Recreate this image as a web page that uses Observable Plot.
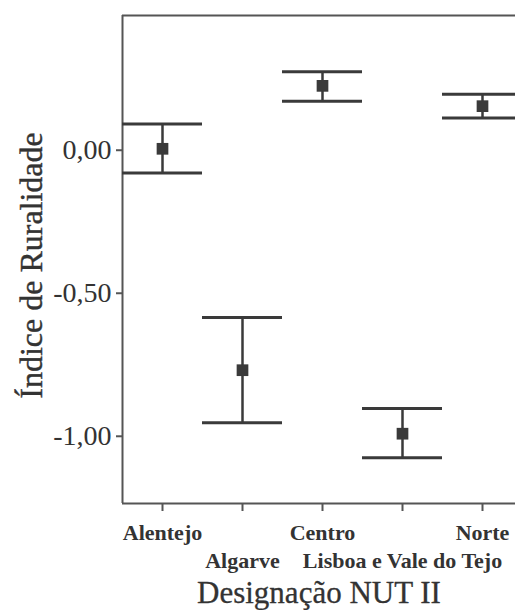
<!DOCTYPE html>
<html>
<head>
<meta charset="utf-8">
<script src="https://cdn.jsdelivr.net/npm/d3@7"></script>
<script src="https://cdn.jsdelivr.net/npm/@observablehq/plot@0.6"></script>
<style>
  html, body { margin: 0; padding: 0; background: #fff; }
</style>
</head>
<body>
<div id="chart"></div>
<script>
const categories = ["Alentejo", "Algarve", "Centro", "Lisboa e Vale do Tejo", "Norte"];
const means = [0.005, -0.769, 0.225, -0.991, 0.154];
const lower = [-0.080, -0.953, 0.171, -1.075, 0.113];
const upper = [0.092, -0.585, 0.274, -0.903, 0.196];
const yTicks = [0, -0.5, -1];
const yDomain = [-1.235, 0.471];
const xDomain = [-0.5, 4.4125];
const yLabel = "Índice de Ruralidade";
const xLabel = "Designação NUT II";

const rows = categories.map((c, i) => ({i, c, mean: means[i], lo: lower[i], hi: upper[i]}));
const fmt = v => d3.format(".2f")(v).replace(".", ",").replace("−", "-");
const ink = "#3a3a3a";
const axisInk = "#555";
const serif = "'Liberation Serif', 'Times New Roman', serif";

const chart = Plot.plot({
  width: 515,
  height: 610,
  marginLeft: 122,
  marginRight: 0,
  marginTop: 15,
  marginBottom: 107,
  style: {fontFamily: serif, color: "#333", background: "#fff"},
  x: {domain: xDomain, label: null},
  y: {domain: yDomain, label: null},
  marks: [
    Plot.ruleY([yDomain[1], yDomain[0]], {stroke: axisInk, strokeWidth: 2}),
    Plot.ruleX([xDomain[0]], {stroke: axisInk, strokeWidth: 2}),
    Plot.axisY(yTicks, {tickFormat: fmt, tickSize: 6, tickPadding: 5, fontSize: 28, fontFamily: serif, stroke: axisInk, strokeWidth: 2, label: null}),
    Plot.axisX(categories.map((c, i) => i), {tickSize: 8, tickFormat: () => "", stroke: axisInk, strokeWidth: 2, label: null}),
    Plot.axisX([0, 2, 4], {tickSize: 0, tickPadding: 21, tickFormat: i => categories[i], fontSize: 22, fontFamily: serif, fontWeight: "bold", label: null}),
    Plot.axisX([1, 3], {tickSize: 0, tickPadding: 49, tickFormat: i => categories[i], fontSize: 22, fontFamily: serif, fontWeight: "bold", label: null}),
    Plot.text([yLabel], {frameAnchor: "left", textAnchor: "middle", rotate: -90, dx: -103, dy: 6, lineAnchor: "top", fontSize: 32, fontFamily: serif, fill: "#333", stroke: "#333", strokeWidth: 0.4}),
    Plot.text([xLabel], {frameAnchor: "bottom", dy: 99, lineAnchor: "bottom", fontSize: 31, fontFamily: serif, fill: "#333", stroke: "#333", strokeWidth: 0.3}),
    Plot.ruleX(rows, {x: "i", y1: "lo", y2: "hi", stroke: ink, strokeWidth: 2.5}),
    Plot.ruleY(rows, {y: "hi", x1: d => d.i - 0.5, x2: d => d.i + 0.5, stroke: ink, strokeWidth: 3}),
    Plot.ruleY(rows, {y: "lo", x1: d => d.i - 0.5, x2: d => d.i + 0.5, stroke: ink, strokeWidth: 3}),
    Plot.dot(rows, {x: "i", y: "mean", symbol: "square", r: 6.6, fill: ink, stroke: "none"})
  ]
});
document.getElementById("chart").appendChild(chart);
</script>
</body>
</html>
